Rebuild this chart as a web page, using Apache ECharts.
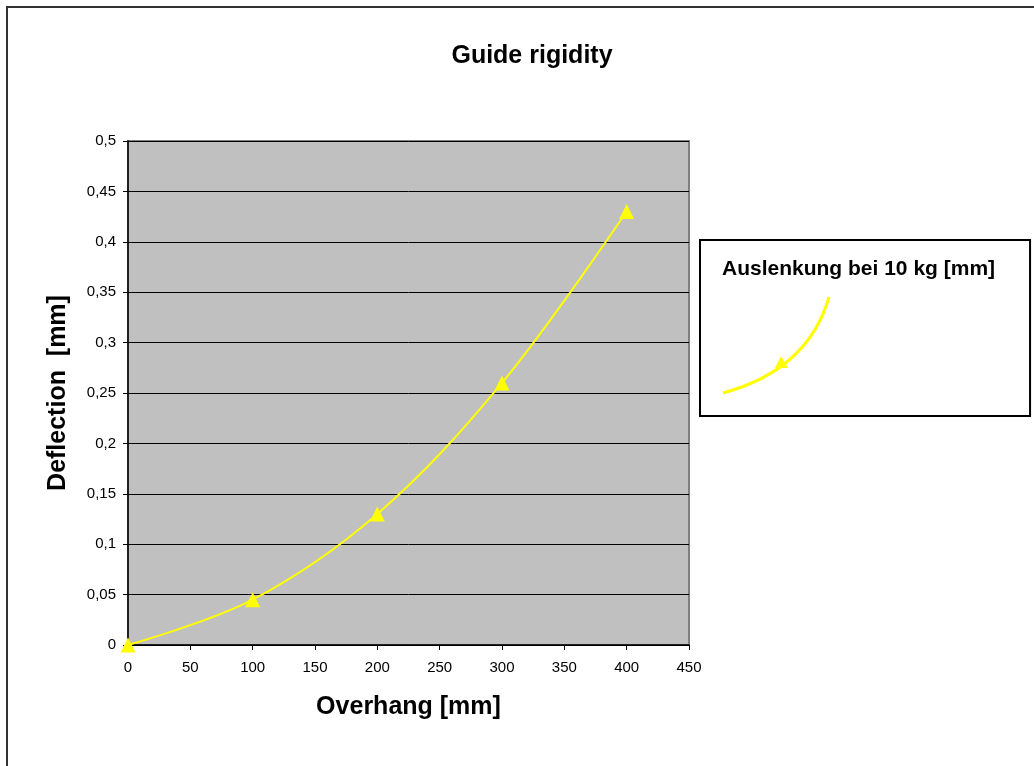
<!DOCTYPE html>
<html><head><meta charset="utf-8">
<script src="https://cdn.jsdelivr.net/npm/echarts@6/dist/echarts.min.js"></script>
<style>html,body{margin:0;padding:0;background:#fff}#c{width:1034px;height:766px}</style>
</head><body><div id="c"></div>
<script>
const overhang = [0, 100, 200, 300, 400];
const deflection = [0, 0.045, 0.13, 0.26, 0.43];
const seriesName = 'Auslenkung bei 10 kg [mm]';
const titleText = 'Guide rigidity';
const xName = 'Overhang [mm]';
const yName = 'Deflection  [mm]';

const chart = echarts.init(document.getElementById('c'));
const font = 'Arial, "Liberation Sans", sans-serif';
chart.setOption({
  backgroundColor: '#fff',
  animation: false,
  title: { text: titleText, left: 527, top: 39, textAlign: 'center',
    textStyle: { fontFamily: font, fontSize: 25, fontWeight: 'bold', color: '#000' } },
  legend: {
    left: 700, top: 240, orient: 'vertical',
    padding: [19, 35, 136, 22],
    borderColor: '#000', borderWidth: 2,
    icon: 'none', itemWidth: 0, itemGap: 0,
    data: [seriesName],
    textStyle: { fontFamily: font, fontSize: 21, fontWeight: 'bold', color: '#000', padding: [0,0,0,-5] }
  },
  grid: { left: 128, top: 141, right: 345, bottom: 121, show: true,
    backgroundColor: '#c0c0c0', borderColor: '#808080', borderWidth: 2 },
  xAxis: {
    type: 'value', min: 0, max: 450, interval: 50,
    name: xName, nameLocation: 'middle', nameGap: 50,
    nameTextStyle: { fontFamily: font, fontSize: 25, fontWeight: 'bold', color: '#000' },
    axisLine: { show: true, lineStyle: { color: '#000', width: 1.5 } },
    axisTick: { show: true, inside: false, length: 5, lineStyle: { color: '#000' } },
    axisLabel: { fontFamily: font, fontSize: 15, color: '#000', margin: 15 },
    splitLine: { show: false }
  },
  yAxis: {
    type: 'value', min: 0, max: 0.5, interval: 0.05,
    name: yName, nameLocation: 'middle', nameGap: 57,
    nameTextStyle: { fontFamily: font, fontSize: 25, fontWeight: 'bold', color: '#000' },
    axisLine: { show: true, lineStyle: { color: '#000', width: 1.5 } },
    axisTick: { show: true, inside: false, length: 5, lineStyle: { color: '#000' } },
    axisLabel: { fontFamily: font, fontSize: 15, color: '#000', margin: 12,
      formatter: v => String(Math.round(v * 100) / 100).replace('.', ',') },
    splitLine: { show: true, lineStyle: { color: '#000', width: 1 } }
  },
  series: [{
    name: seriesName, type: 'line', smooth: 0.35,
    data: overhang.map((x, i) => [x, deflection[i]]),
    symbol: 'triangle', symbolSize: 15,
    itemStyle: { color: '#ffff00' },
    lineStyle: { color: '#ffff00', width: 2 }
  }],
  graphic: [
    { type: 'rect', shape: { x: 7, y: 7, width: 1060, height: 800 },
      style: { fill: 'none', stroke: '#333', lineWidth: 2 }, silent: true },
    { type: 'bezierCurve', shape: { x1: 723, y1: 393, x2: 829, y2: 297, cpx1: 808, cpy1: 370 },
      style: { fill: 'none', stroke: '#ffff00', lineWidth: 3 }, silent: true },
    { type: 'polygon', shape: { points: [[781, 356], [775, 368], [788, 368]] },
      style: { fill: '#ffff00' }, silent: true }
  ]
});
</script></body></html>
